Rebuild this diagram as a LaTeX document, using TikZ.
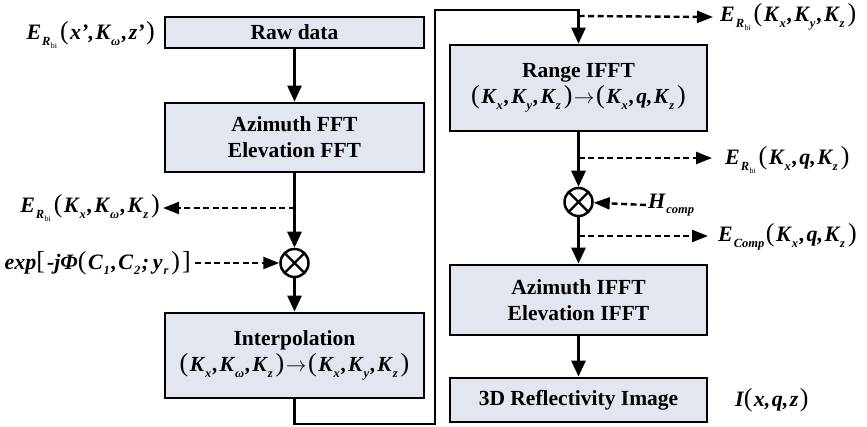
\documentclass[tikz,border=0pt]{standalone}
\usepackage{fontspec}
\setmainfont{Liberation Serif}
\usetikzlibrary{arrows.meta}
\definecolor{boxfill}{RGB}{226,231,239}
\newcommand\lpar{{\fontsize{26}{26}\selectfont\mdseries\upshape(}\kern1.5pt}
\newcommand\rpar{\kern1.5pt{\fontsize{26}{26}\selectfont\mdseries\upshape)}}
\newcommand\lbrk{{\fontsize{26}{26}\selectfont\mdseries\upshape[}\kern2pt}
\newcommand\rbrk{\kern2pt{\fontsize{26}{26}\selectfont\mdseries\upshape]}}
\newcommand\cm{,\kern1.5pt}
\newcommand\sbs[1]{\kern1pt\raisebox{-0.55ex}{\fontsize{12.5}{12.5}\selectfont #1}\kern1.5pt}
\newcommand\ssbs[1]{\kern0.3pt\raisebox{-0.45ex}{\fontsize{8}{8}\selectfont #1}}
\newcommand\ERbi{E\kern1pt\raisebox{-0.55ex}{\fontsize{12.5}{12.5}\selectfont R\ssbs{\upshape\mdseries bi}}\kern3pt}
\newcommand\arr{\kern1.5pt{\mdseries\upshape$\rightarrow$}\kern1.5pt}
\begin{document}
\begin{tikzpicture}[x=1pt,y=-1pt,
  box/.style={draw=black, line width=2.8pt, fill=boxfill, align=center,
    font=\fontsize{21.5}{26}\selectfont\bfseries, inner sep=0pt},
  lbox/.style={box, minimum width=259pt},
  rbox/.style={box, minimum width=257pt},
  flow/.style={line width=2.8pt, -{Triangle[length=16pt,width=14pt]}},
  dflow/.style={line width=2.4pt, dash pattern=on 6pt off 3.5pt, -{Triangle[length=16pt,width=12pt]}},
  lab/.style={font=\fontsize{22}{24}\selectfont\bfseries\itshape, inner sep=0pt},
  mult/.style={circle, draw=black, line width=2.5pt, minimum size=28pt, inner sep=0pt,
    path picture={\draw[line width=2.3pt] (path picture bounding box.north west) -- (path picture bounding box.south east)
      (path picture bounding box.north east) -- (path picture bounding box.south west);}}
]
\useasboundingbox (0,0) rectangle (867,427);

% left column
\node[lbox, minimum height=31pt] (raw) at (294.5,32.5) {Raw data};
\node[lbox, minimum height=69pt] (azfft) at (294.5,137.5) {Azimuth FFT\\Elevation FFT};
\node[mult] (m1) at (294.5,263) {};
\node[lbox, minimum height=85pt] (interp) at (294.5,355.5)
  {Interpolation\\{\itshape\lpar K\sbs{x}\cm K\sbs{ω}\cm K\sbs{z}\rpar\arr\lpar K\sbs{x}\cm K\sbs{y}\cm K\sbs{z}\rpar}};

\node[lab, anchor=east] (l1) at (155,35) {\ERbi\lpar x'\cm K\sbs{ω}\cm z'\rpar};
\node[lab, anchor=east] (l2) at (160,208) {\ERbi\lpar K\sbs{x}\cm K\sbs{ω}\cm K\sbs{z}\rpar};
\node[lab, anchor=east] (l3) at (191,263) {exp\lbrk-jΦ\lpar C\sbs{1}\cm C\sbs{2};\,y\sbs{r}\rpar\rbrk};

\coordinate (d1) at (294.5,208);
\draw[flow] (raw) -- (azfft);
\draw[flow] (azfft) -- (m1);
\draw[flow] (m1) -- (interp);
\draw[dflow] (d1) -- ([xshift=3pt]l2.east);
\draw[dflow] ([xshift=4pt]l3.east) -- (m1);

% right column
\node[rbox, minimum height=86pt] (range) at (578.5,88)
  {Range IFFT\\{\itshape\lpar K\sbs{x}\cm K\sbs{y}\cm K\sbs{z}\rpar\arr\lpar K\sbs{x}\cm q\cm K\sbs{z}\rpar}};
\node[mult] (m2) at (578.5,202) {};
\node[rbox, minimum height=70pt] (azifft) at (578.5,300) {Azimuth IFFT\\Elevation IFFT};
\node[rbox, minimum height=44pt] (img) at (578.5,400) {3D Reflectivity Image};

\node[lab, anchor=west] (r1) at (720,17) {\ERbi\lpar K\sbs{x}\cm K\sbs{y}\cm K\sbs{z}\rpar};
\node[lab, anchor=west] (r2) at (725,160) {\ERbi\lpar K\sbs{x}\cm q\cm K\sbs{z}\rpar};
\node[lab, anchor=west] (rh) at (648,205) {H\sbs{comp}};
\node[lab, anchor=west] (r3) at (718,237) {E\sbs{Comp}\lpar K\sbs{x}\cm q\cm K\sbs{z}\rpar};
\node[lab, anchor=west] (ri) at (735,400) {I\lpar x\cm q\cm z\rpar};

% loop connector
\coordinate (c1) at (294.5,424);
\coordinate (c2) at (435,424);
\coordinate (c3) at (435,10);
\coordinate (c4) at (578.5,10);
\draw[flow, line join=miter] (interp.south) -- (c1) -- (c2) -- (c3) -- (c4) -- (range.north);

\coordinate (d3) at (578.5,16);
\coordinate (d4) at (578.5,158);
\coordinate (d5) at (578.5,236);
\draw[dflow] (d3) -- ([xshift=-7pt]r1.west);
\draw[dflow] (d4) -- ([xshift=-13pt]r2.west |- d4);
\draw[dflow] ([xshift=-2pt]rh.west) -- (m2);
\draw[dflow] (d5) -- ([xshift=-10pt]r3.west |- d5);
\draw[flow] (range) -- (m2);
\draw[flow] (m2) -- (azifft);
\draw[flow] (azifft) -- (img);
\end{tikzpicture}
\end{document}
